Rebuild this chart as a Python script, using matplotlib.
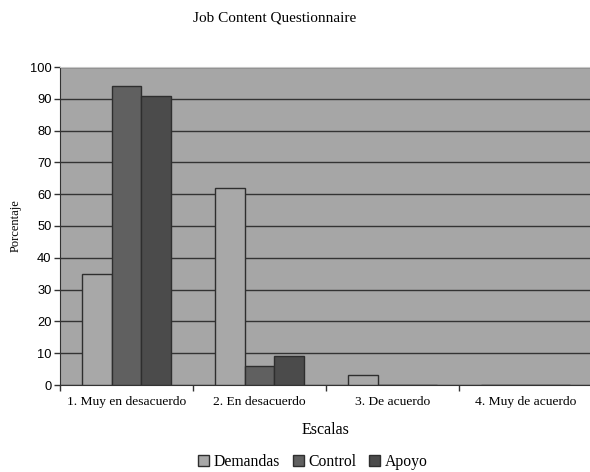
import matplotlib
matplotlib.use("Agg")
import matplotlib.pyplot as plt
import numpy as np

# Data
categories = ["1. Muy en desacuerdo", "2. En desacuerdo", "3. De acuerdo", "4. Muy de acuerdo"]
demandas = [35, 62, 3, 0]
control = [94, 6, 0, 0]
apoyo = [91, 9, 0, 0]
series_names = ["Demandas", "Control", "Apoyo"]
y_ticks = list(range(0, 101, 10))

COLORS = ["#a8a8a8", "#606060", "#4b4b4b"]
BG = "#a6a6a6"
EDGE = "#2e2e2e"
SERIF = "Liberation Serif"

fig = plt.figure(figsize=(5.9, 4.72), dpi=100)
ax = fig.add_axes([60 / 590, 87 / 472, 532 / 590, 318 / 472])
ax.set_facecolor(BG)

n = len(categories)
x = np.arange(n) + 0.5
w = 1 / 4.5
for i, (vals, name, col) in enumerate(zip([demandas, control, apoyo], series_names, COLORS)):
    ax.bar(x + (i - 1) * w, vals, width=w, color=col, edgecolor=EDGE,
           linewidth=1.0, label=name, zorder=3)

ax.set_xlim(0, n)
ax.set_ylim(0, 100)
ax.set_yticks(y_ticks)
ax.yaxis.grid(True, color="#333333", linewidth=1.0, zorder=1)
ax.set_axisbelow(True)

# category boundaries as ticks, labels centered
ax.set_xticks(np.arange(n + 1))
ax.set_xticklabels([])
ax.set_xticks(x, minor=True)
ax.set_xticklabels(categories, minor=True, fontfamily=SERIF, fontsize=9.7)
ax.tick_params(axis="x", which="minor", length=0, pad=8)
ax.tick_params(axis="x", which="major", length=4, width=1, color="#333333")
ax.tick_params(axis="y", length=4, width=1, color="#333333", labelsize=9.3, pad=2)
for lbl in ax.get_yticklabels():
    lbl.set_fontfamily("Liberation Sans")

ax.spines["top"].set_color("#c8c8c8")
ax.spines["right"].set_visible(False)
ax.spines["left"].set_color("#333333")
ax.spines["bottom"].set_color("#333333")

ax.set_ylabel("Porcentaje", fontfamily=SERIF, fontsize=9, labelpad=6)
ax.set_xlabel("Escalas", fontfamily=SERIF, fontsize=11.5, labelpad=10)
fig.text(275 / 590, 1 - 18 / 472, "Job Content Questionnaire", ha="center", va="center",
         fontfamily=SERIF, fontsize=11)

leg = fig.legend(loc="center", bbox_to_anchor=(313 / 590, 1 - 462 / 472), ncol=3,
                 frameon=False, prop={"family": SERIF, "size": 11.3},
                 handlelength=0.7, handleheight=0.7, handletextpad=0.3, columnspacing=0.8)

fig.savefig("out.png", dpi=100)
